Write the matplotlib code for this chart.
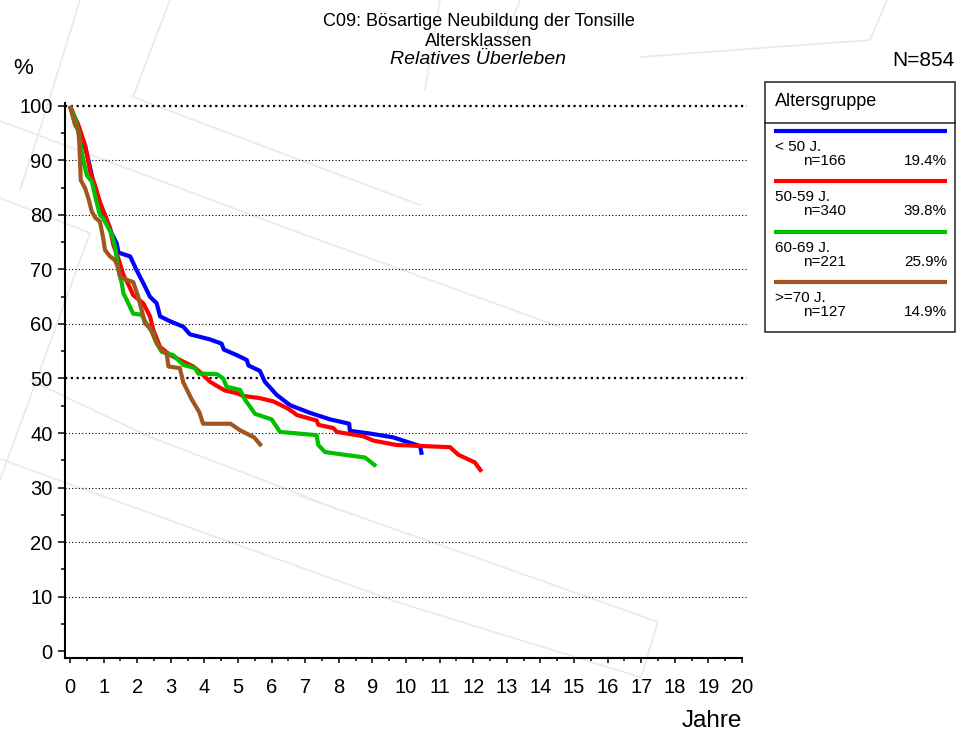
import matplotlib
matplotlib.use("Agg")
import matplotlib.pyplot as plt
from matplotlib.patches import Rectangle
from matplotlib.ticker import MultipleLocator

plt.rcParams['font.family'] = ['Liberation Sans', 'DejaVu Sans']

# survival curves (years, relative survival in %)
lt50_x = [0, 0.15, 0.35, 0.45, 0.55, 0.7, 0.9, 1.09, 1.24, 1.39, 1.44, 1.79, 1.98, 2.18, 2.38,
          2.58, 2.68, 2.98, 3.37, 3.57, 4.15, 4.51, 4.58, 4.96, 5.26, 5.31, 5.65, 5.8, 6.15,
          6.55, 7.14, 7.74, 8.31, 8.33, 8.93, 9.62, 10.02, 10.42, 10.47]
lt50_y = [100, 96.9, 93.8, 92.5, 90, 85.8, 81.8, 79.1, 76.6, 74.8, 73.1, 72.4, 69.9, 67.5, 65,
          63.8, 61.4, 60.5, 59.5, 58.1, 57.2, 56.4, 55.3, 54.3, 53.4, 52.4, 51.4, 49.4, 47,
          45.1, 43.7, 42.5, 41.7, 40.4, 39.9, 39.2, 38.4, 37.6, 36]

a50_x = [0, 0.25, 0.45, 0.6, 0.74, 0.89, 1.04, 1.19, 1.29, 1.44, 1.59, 1.74, 1.88, 2.18, 2.38,
         2.48, 2.68, 2.98, 3.37, 3.67, 3.92, 4.17, 4.41, 4.61, 4.96, 5.16, 5.65, 6.05, 6.45,
         6.65, 6.75, 7.34, 7.39, 7.84, 7.94, 8.73, 9.03, 9.72, 11.31, 11.56, 12.05, 12.25]
a50_y = [100, 96.5, 92.8, 87.9, 85.5, 82.4, 80, 77.6, 74.5, 72, 69, 67.2, 65.3, 63.8, 61.4,
         58.9, 55.8, 54.3, 53.1, 52.2, 50.9, 49.4, 48.5, 47.8, 47.3, 46.8, 46.4, 45.8, 44.6,
         43.8, 43.3, 42.3, 41.5, 40.9, 40.2, 39.4, 38.6, 37.8, 37.4, 36, 34.6, 32.9]

a60_x = [0, 0.15, 0.25, 0.35, 0.4, 0.5, 0.65, 0.79, 0.89, 0.99, 1.09, 1.24, 1.34, 1.44, 1.54,
         1.59, 1.69, 1.88, 2.13, 2.33, 2.48, 2.58, 2.73, 3.07, 3.37, 3.72, 3.82, 4.37, 4.56,
         4.66, 5.06, 5.21, 5.51, 6.0, 6.25, 7.34, 7.39, 7.59, 8.78, 9.11]
a60_y = [100, 97.7, 95.3, 91.6, 89.8, 87.3, 86.1, 82.4, 80, 79.4, 78.2, 76.5, 74.2, 69.9, 67.5,
         65.6, 64.4, 61.9, 61.7, 59.5, 58.3, 56.4, 54.9, 54.3, 52.5, 51.9, 50.9, 50.8, 50,
         48.5, 47.9, 46.1, 43.5, 42.5, 40.2, 39.6, 37.8, 36.5, 35.5, 33.9]

a70_x = [0, 0.1, 0.15, 0.25, 0.28, 0.3, 0.32, 0.45, 0.55, 0.65, 0.75, 0.89, 0.99, 1.04, 1.19,
         1.34, 1.44, 1.49, 1.69, 1.88, 2.03, 2.13, 2.23, 2.38, 2.53, 2.73, 2.88, 2.93, 3.27,
         3.37, 3.62, 3.85, 3.96, 4.78, 5.06, 5.48, 5.7]
a70_y = [100, 97.7, 96.5, 95.6, 92.8, 89.8, 86.4, 84.9, 83, 80.6, 79.5, 78.8, 75.7, 73.6, 72.4,
         71.7, 70.2, 68.7, 68.1, 67.7, 65, 62.6, 60.1, 59.4, 57.1, 55.2, 54.5, 52.2, 51.9,
         49.3, 46.2, 43.8, 41.7, 41.7, 40.5, 39.2, 37.6]

groups = ['< 50 J.', '50-59 J.', '60-69 J.', '>=70 J.']
counts = [166, 340, 221, 127]
colors = ['#0000ff', '#ff0000', '#00c000', '#a0561e']
curves = [(lt50_x, lt50_y), (a50_x, a50_y), (a60_x, a60_y), (a70_x, a70_y)]
total = sum(counts)

W, H = 957, 732
fig = plt.figure(figsize=(W / 100, H / 100), dpi=100)

# faint watermark strokes behind everything (pixel coords of the reference)
wm = fig.add_axes([0, 0, 1, 1], zorder=-5)
wm.set_xlim(0, W)
wm.set_ylim(H, 0)
wm.axis('off')
wm_paths = [
    [(80, 0), (43, 120), (20, 190)],
    [(0, 121), (300, 233), (560, 327)],
    [(170, 0), (133, 97), (300, 160), (420, 205)],
    [(0, 198), (90, 233), (0, 480)],
    [(30, 380), (150, 437), (263, 480), (340, 510)],
    [(0, 459), (280, 560), (400, 603), (640, 677)],
    [(300, 496), (483, 560), (658, 622), (640, 680)],
    [(887, 0), (870, 40), (640, 57)],
    [(440, 0), (425, 90)],
    [(520, 0), (505, 40)],
]
for path in wm_paths:
    wm.plot([p[0] for p in path], [p[1] for p in path], color='#e9e9e9', lw=1.2)

# plot area in pixel terms of the reference
x0px, x1px, y0px, y1px = 65, 742, 658, 102.7
ax = fig.add_axes([x0px / W, 1 - y0px / H, (x1px - x0px) / W, (y0px - y1px) / H])
ax.patch.set_alpha(0)
ax.set_xlim(-0.149, 20)
ax.set_ylim(-1.28, 100.6)

for yv in range(10, 101, 10):
    bold = yv in (50, 100)
    ax.plot([-0.149, 20.15], [yv, yv], color='black', lw=1.6 if bold else 0.8,
            linestyle=(0, (1, 1.6)) if bold else (0, (1, 2)), clip_on=False, zorder=1)

for (xs, ys), c in zip(curves, colors):
    ax.plot(xs, ys, color=c, lw=3, solid_joinstyle='round', solid_capstyle='butt',
            clip_on=False, zorder=3)

for side in ('top', 'right'):
    ax.spines[side].set_visible(False)
for side in ('left', 'bottom'):
    ax.spines[side].set_linewidth(1.5)

ax.xaxis.set_major_locator(MultipleLocator(1))
ax.xaxis.set_minor_locator(MultipleLocator(0.5))
ax.yaxis.set_major_locator(MultipleLocator(10))
ax.yaxis.set_minor_locator(MultipleLocator(5))
ax.tick_params(axis='x', which='major', length=3.6, width=1.1, pad=11, labelsize=14.5)
ax.tick_params(axis='x', which='minor', length=2, width=1.1)
ax.tick_params(axis='y', which='major', length=5, width=1.1, pad=4, labelsize=14.5)
ax.tick_params(axis='y', which='minor', length=3, width=1.1)

fig.text(742 / W, 1 - 721 / H, 'Jahre', fontsize=17.5, ha='right', va='center')
fig.text(13 / W, 1 - 68 / H, '%', fontsize=16, ha='left', va='center')
fig.text(955 / W, 1 - 61 / H, 'N=%d' % total, fontsize=15, ha='right', va='center')

fig.text(0.5, 1 - 22 / H, 'C09: Bösartige Neubildung der Tonsille', fontsize=13,
         ha='center', va='center')
fig.text(0.5, 1 - 42 / H, 'Altersklassen', fontsize=13, ha='center', va='center')
fig.text(0.5, 1 - 60 / H, 'Relatives Überleben', fontsize=14, style='italic',
         ha='center', va='center')

# legend box, drawn in reference pixel coordinates
bx0, bx1, by0, by1 = 764, 956, 81, 332
lax = fig.add_axes([bx0 / W, 1 - by1 / H, (bx1 - bx0) / W, (by1 - by0) / H])
lax.set_xlim(bx0, bx1)
lax.set_ylim(by1, by0)
lax.axis('off')
lax.add_patch(Rectangle((bx0 + 0.5, by0 + 0.5), bx1 - bx0 - 1.5, by1 - by0 - 1,
                        facecolor='white', lw=1.1, edgecolor='#222222', clip_on=False))
lax.plot([bx0, bx1], [123, 123], color='#222222', lw=1.1)
lax.text(775, 102, 'Altersgruppe', fontsize=13, ha='left', va='center')
for i, (g, n, c) in enumerate(zip(groups, counts, colors)):
    yl = 131 + i * 50.3
    lax.plot([774, 947], [yl, yl], color=c, lw=3, solid_capstyle='butt')
    lax.text(775, yl + 16, g, fontsize=11, ha='left', va='center')
    lax.text(803, yl + 30, 'n=%d' % n, fontsize=11, ha='left', va='center')
    lax.text(947, yl + 30, '%.1f%%' % (100.0 * n / total), fontsize=11, ha='right',
             va='center')

fig.savefig('out.png', dpi=100)
